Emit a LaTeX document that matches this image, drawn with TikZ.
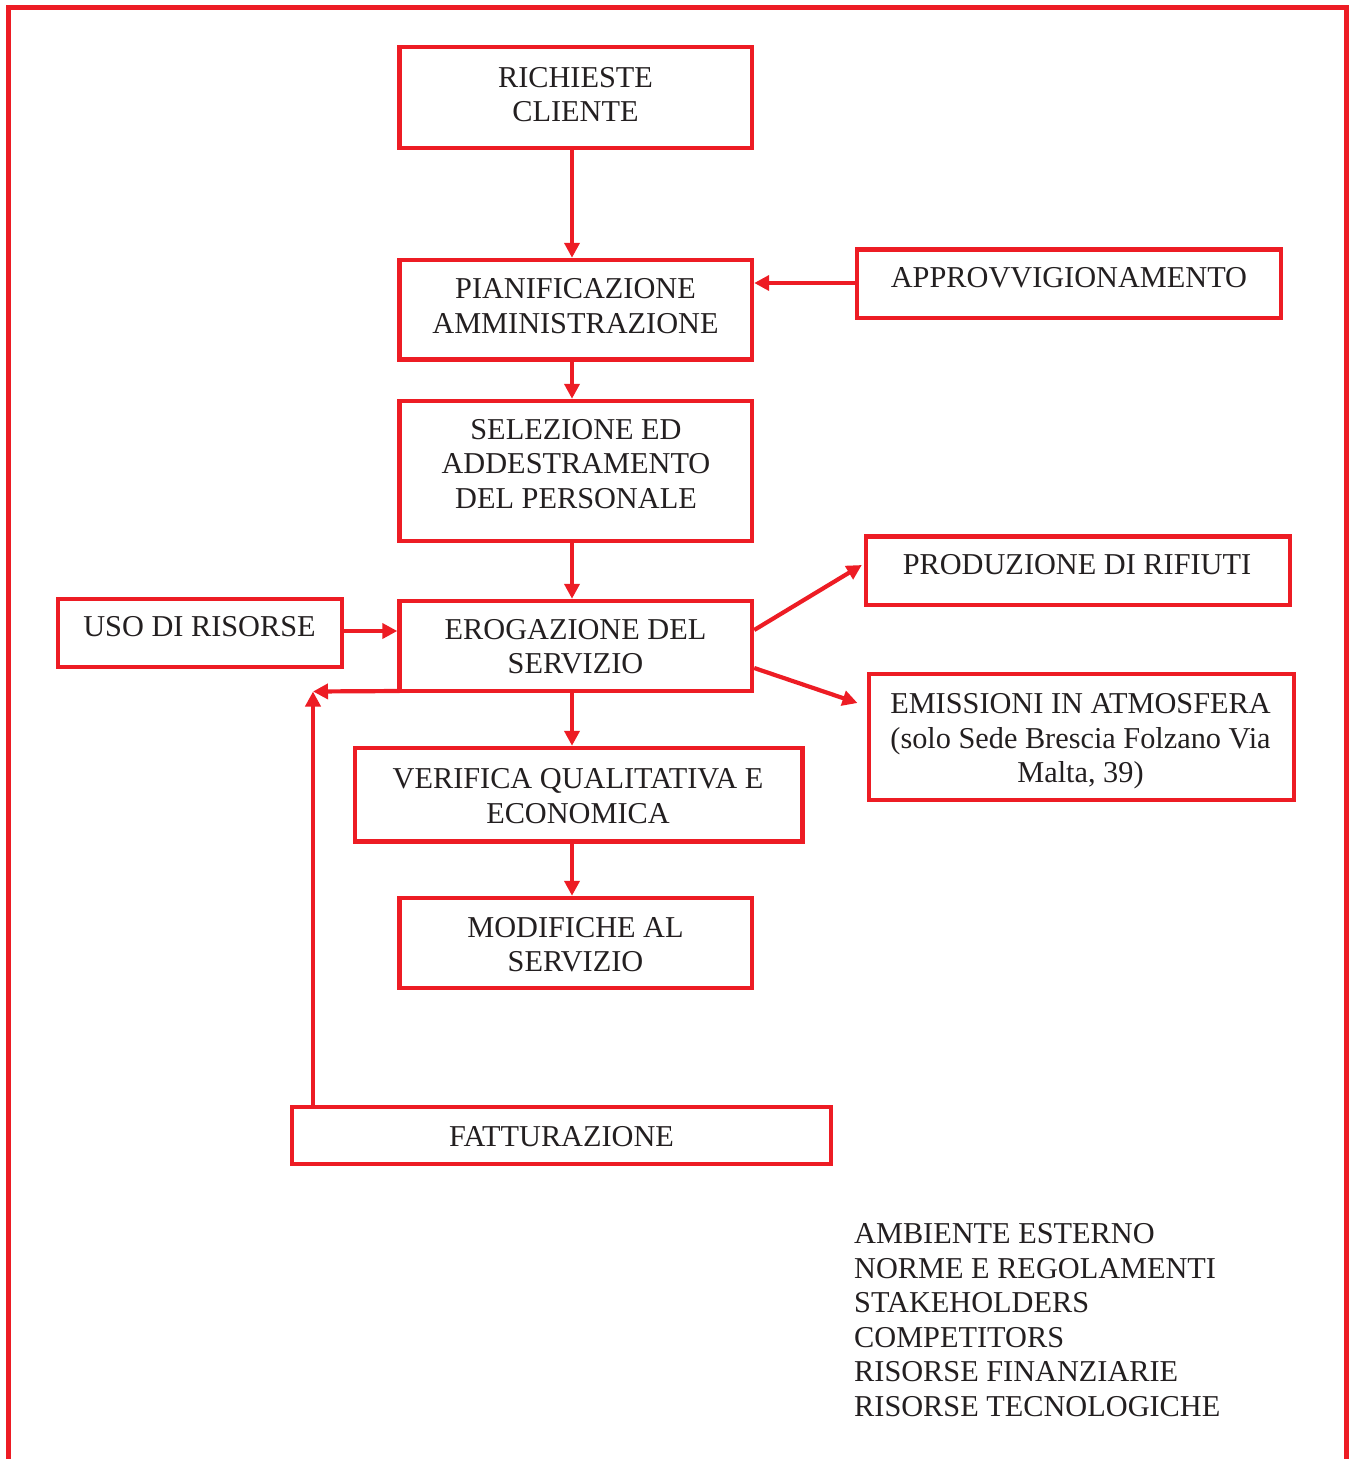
\documentclass[tikz,border=0pt]{standalone}
\usepackage{fontspec}
\setmainfont{Liberation Serif}
\usetikzlibrary{arrows.meta}
\definecolor{myred}{RGB}{237,28,36}
\definecolor{txtcol}{RGB}{35,31,32}
\tikzset{
  box/.style={draw=myred, line width=4.4pt, inner sep=0pt, fill=none},
  lbl/.style={text=txtcol, font=\fontsize{30.3}{34.5}\selectfont, align=center, inner sep=0pt},
  arr/.style={draw=myred, line width=4.2pt, -{Triangle[length=15pt,width=15pt]}},
  frame/.style={draw=myred, line width=5pt, line join=miter}
}
\begin{document}
\begin{tikzpicture}[x=1pt,y=-1pt]
\useasboundingbox (0,0) rectangle (1351,1459);
\draw[frame] (8.5,1459) -- (8.5,7.5) -- (1346.5,7.5) -- (1346.5,1459);

% boxes
\node[box, minimum width=352.5pt, minimum height=101pt] (rich) at (575.75,97.5) {};
\node[box, minimum width=352.5pt, minimum height=99.5pt] (pian) at (575.75,309.75) {};
\node[box, minimum width=424pt, minimum height=68.5pt] (appr) at (1069,283.75) {};
\node[box, minimum width=352.5pt, minimum height=140pt] (sel) at (575.75,471) {};
\node[box, minimum width=424pt, minimum height=68.5pt] (prod) at (1078,570.75) {};
\node[box, minimum width=284pt, minimum height=68pt] (uso) at (200,633) {};
\node[box, minimum width=352.5pt, minimum height=90pt] (ero) at (575.75,646) {};
\node[box, minimum width=425.3pt, minimum height=126pt] (emis) at (1081.35,736.7) {};
\node[box, minimum width=447.6pt, minimum height=93.3pt] (ver) at (578.5,794.65) {};
\node[box, minimum width=352.5pt, minimum height=90pt] (mod) at (575.75,943) {};
\node[box, minimum width=539pt, minimum height=57pt] (fatt) at (561.5,1135.5) {};

% texts
\node[lbl] (trich) at (575.5,94.6) {RICHIESTE\\CLIENTE};
\node[lbl] (tpian) at (575.5,306) {PIANIFICAZIONE\\AMMINISTRAZIONE};
\node[lbl] (tappr) at (1069,278) {APPROVVIGIONAMENTO};
\node[lbl] (tsel) at (576,464) {SELEZIONE ED\\ADDESTRAMENTO\\DEL PERSONALE};
\node[lbl] (tprod) at (1077,565) {PRODUZIONE DI RIFIUTI};
\node[lbl] (tuso) at (199.5,627) {USO DI RISORSE};
\node[lbl] (tero) at (575.5,646.5) {EROGAZIONE DEL\\SERVIZIO};
\node[lbl] (temis) at (1080.5,741.6) {EMISSIONI IN ATMOSFERA\\(solo Sede Brescia Folzano Via\\Malta, 39)};
\node[lbl] (tver) at (578,796) {VERIFICA QUALITATIVA E\\ECONOMICA};
\node[lbl] (tmod) at (575.5,944.5) {MODIFICHE AL\\SERVIZIO};
\node[lbl] (tfatt) at (561.5,1137) {FATTURAZIONE};
\node[lbl, align=left, anchor=north west] (ext) at (854,1223.3) {AMBIENTE ESTERNO\\NORME E REGOLAMENTI\\STAKEHOLDERS\\COMPETITORS\\RISORSE FINANZIARIE\\RISORSE TECNOLOGICHE};

% helper coordinates
\coordinate (axis) at (572,0);
\coordinate (yappr) at (0,283);
\coordinate (yuso) at (0,631);
\coordinate (yprodA) at (0,630);
\coordinate (yprodB) at (0,565);
\coordinate (yemisA) at (0,668);
\coordinate (yemisB) at (0,703);
\coordinate (erocorner) at ([xshift=2.2pt,yshift=2.2pt]ero.south west);
\coordinate (fb) at (313,691.5);

% connectors
\draw[arr] (rich.south -| axis) -- (pian.north -| axis);
\draw[arr] (appr.west |- yappr) -- (pian.east |- yappr);
\draw[arr] (pian.south -| axis) -- (sel.north -| axis);
\draw[arr] (sel.south -| axis) -- (ero.north -| axis);
\draw[arr] (uso.east |- yuso) -- (ero.west |- yuso);
\draw[arr] (ero.east |- yprodA) -- ([xshift=-2pt]prod.west |- yprodB);
\draw[arr] (ero.east |- yemisA) -- ([xshift=-9pt]emis.west |- yemisB);
\draw[arr] (ero.south -| axis) -- (ver.north -| axis);
\draw[arr] (ver.south -| axis) -- (mod.north -| axis);
\draw[arr] (erocorner) -- (fb);
\draw[arr] (fatt.north -| fb) -- (fb);
\end{tikzpicture}
\end{document}
